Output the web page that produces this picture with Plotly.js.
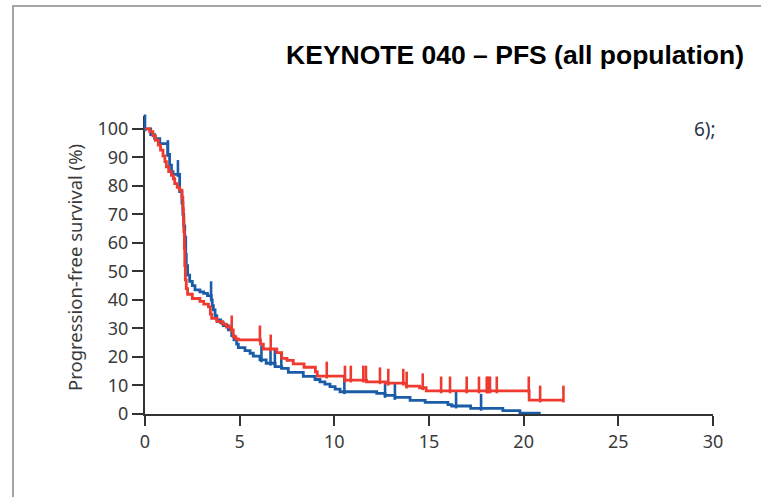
<!DOCTYPE html>
<html>
<head>
<meta charset="utf-8">
<script src="https://cdn.plot.ly/plotly-3.0.1.min.js"></script>
<style>
  html, body { margin: 0; padding: 0; background: #ffffff; }
  #frame { position: absolute; left: 12px; top: 5px; width: 760px; height: 500px;
           border-left: 2px solid #a6a6a6; border-top: 2px solid #a6a6a6; pointer-events: none; }
  #chart { width: 761px; height: 497px; }
</style>
</head>
<body>
<div id="chart"></div>
<div id="frame"></div>
<script>
// Kaplan-Meier step curves: time (months) at which survival (%) drops to the given level
const blueTimes = [0, 0.3, 0.51, 0.78, 1.2, 1.3, 1.4, 1.48, 1.83, 1.95, 2.0, 2.05, 2.1, 2.15, 2.18, 2.25, 2.36, 2.5, 2.64, 2.9, 3.1, 3.3, 3.5, 3.55, 3.61, 3.7, 3.79, 4.0, 4.14, 4.4, 4.58, 4.7, 4.84, 4.93, 5.28, 5.55, 5.72, 6.07, 6.4, 6.87, 7.22, 7.57, 8.36, 8.98, 9.24, 9.5, 9.77, 10.04, 10.3, 12.24, 12.68, 13.2, 14.0, 14.8, 16.0, 16.2, 17.2, 18.9, 19.8, 20.9];
const blueSurv  = [100, 98, 96.6, 94.8, 91, 87.3, 85, 84, 78, 74, 70, 66, 62, 56, 52, 48.7, 46.5, 45, 43.5, 42.8, 42.3, 41.5, 40, 38, 36.5, 34.5, 33, 32, 31, 29.5, 27.5, 26, 24.5, 23.3, 22.2, 21.3, 20.3, 19, 17.8, 16.6, 16, 14.6, 13.2, 12.1, 11.3, 10.5, 9.6, 8.7, 7.8, 7.2, 6.5, 5.8, 4.8, 4.1, 3.3, 2.8, 2.0, 1.2, 0.3, 0.3];
const blueCensored = [0, 1.21, 1.74, 3.49, 6.15, 6.63, 6.86, 7.2, 10.53, 12.68, 13.2, 16.43, 17.75];

const redTimes = [0, 0.25, 0.42, 0.55, 0.7, 0.82, 0.95, 1.05, 1.13, 1.25, 1.39, 1.5, 1.57, 1.7, 1.83, 1.95, 2.0, 2.03, 2.05, 2.08, 2.1, 2.13, 2.18, 2.25, 2.5, 2.9, 3.1, 3.35, 3.45, 3.52, 3.8, 4.1, 4.3, 4.55, 4.66, 4.8, 4.93, 6.1, 6.25, 6.96, 7.22, 7.5, 7.83, 8.4, 9.0, 9.1, 10.55, 11.7, 12.7, 13.8, 14.5, 14.85, 20.29, 22.1];
const redSurv  = [100, 99, 97.5, 96, 94.3, 92.5, 90.5, 88.5, 86.7, 85, 83.7, 82.5, 80.8, 79.5, 78.5, 76, 72, 68, 64, 58, 52, 47, 44, 42, 40.5, 39.5, 38.5, 37.6, 35, 33.5, 32.4, 31.5, 30.5, 29.5, 27.1, 26.3, 26, 24.5, 22.8, 21.5, 19.5, 18.8, 17.6, 16.4, 14.8, 13.3, 11.9, 11.3, 10.8, 9.8, 9.2, 8.1, 4.9, 4.9];
const redCensored = [4.58, 6.07, 6.64, 9.6, 10.56, 10.87, 11.53, 11.67, 12.41, 12.85, 13.64, 13.82, 14.67, 15.64, 16.11, 16.99, 17.64, 18.05, 18.13, 18.22, 18.58, 20.27, 20.87, 22.1];

const xTicks = [0, 5, 10, 15, 20, 25, 30];
const yTicks = [0, 10, 20, 30, 40, 50, 60, 70, 80, 90, 100];

const BLUE = '#1b5ca8';
const RED = '#ef3a2f';
const MARK_LEN = 4.2;   // censor stroke height in survival units

// survival level of a step curve at time t
function levelAt(times, surv, t) {
  let v = surv[0];
  for (let i = 0; i < times.length; i++) {
    if (times[i] <= t) v = surv[i]; else break;
  }
  return v;
}

function curve(times, surv, color) {
  return {
    type: 'scatter', mode: 'lines', x: times, y: surv,
    line: { color: color, width: 2.8, shape: 'hv' },
    cliponaxis: false, hoverinfo: 'skip', showlegend: false
  };
}

// censoring marks: short vertical strokes rising from the curve
function censor(times, surv, cens, color) {
  return {
    type: 'scatter', mode: 'markers', x: cens,
    y: cens.map(t => levelAt(times, surv, t) + MARK_LEN / 2),
    marker: { symbol: 'line-ns', size: 12, color: color,
              line: { color: color, width: 2.6 } },
    cliponaxis: false, hoverinfo: 'skip', showlegend: false
  };
}

const data = [
  curve(blueTimes, blueSurv, BLUE),
  censor(blueTimes, blueSurv, blueCensored, BLUE),
  curve(redTimes, redSurv, RED),
  censor(redTimes, redSurv, redCensored, RED)
];

const tickFont = { family: 'Noto Sans, Open Sans, sans-serif', size: 18, color: '#3a3a3a' };

const layout = {
  width: 761, height: 497,
  margin: { l: 145, r: 48, t: 116, b: 83 },
  paper_bgcolor: '#ffffff', plot_bgcolor: '#ffffff',
  title: {
    text: '<b>KEYNOTE 040 – PFS (all population)</b>',
    font: { family: 'Liberation Sans, Arial, sans-serif', size: 26.5, color: '#000000' },
    xref: 'container', yref: 'container',
    x: 744 / 761, xanchor: 'right', y: 1 - 55 / 497, yanchor: 'middle'
  },
  xaxis: {
    range: [0, 30], tickvals: xTicks, ticktext: xTicks.map(String),
    showgrid: false, zeroline: false, showline: true, linecolor: '#333333', linewidth: 2,
    ticks: 'outside', ticklen: 10, tickwidth: 2, tickcolor: '#333333',
    tickfont: tickFont, fixedrange: true, layer: 'below traces'
  },
  yaxis: {
    range: [0, 104.5], tickvals: yTicks, ticktext: yTicks.map(String),
    showgrid: false, zeroline: false, showline: true, linecolor: '#333333', linewidth: 2,
    ticks: 'outside', ticklen: 11, tickwidth: 2, tickcolor: '#333333',
    tickfont: tickFont, fixedrange: true, layer: 'below traces'
  },
  annotations: [
    {
      text: 'Progression-free survival (%)', textangle: -90,
      xref: 'paper', yref: 'paper', x: 0, y: 0.5, xanchor: 'center', yanchor: 'middle',
      xshift: -71, yshift: -3, showarrow: false,
      font: { family: 'Noto Sans, Open Sans, sans-serif', size: 18.5, color: '#3a3a3a' }
    },
    {
      text: '6);', xref: 'paper', yref: 'paper', x: 1, y: 1, xanchor: 'right', yanchor: 'middle',
      xshift: 5, yshift: -13, showarrow: false,
      font: { family: 'Noto Sans, Open Sans, sans-serif', size: 19, color: '#2b3548' }
    }
  ]
};

Plotly.newPlot('chart', data, layout, { staticPlot: true, displayModeBar: false });
</script>
</body>
</html>
